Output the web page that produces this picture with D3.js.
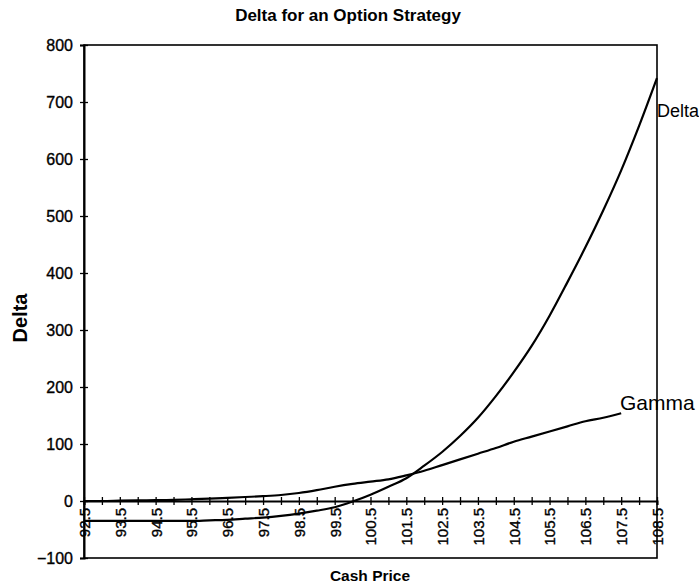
<!DOCTYPE html>
<html>
<head>
<meta charset="utf-8">
<script src="https://cdn.jsdelivr.net/npm/d3@7"></script>
<style>
  html, body { margin: 0; padding: 0; background: #fff; }
  svg { display: block; font-family: "Liberation Sans", Arial, Helvetica, sans-serif; }
</style>
</head>
<body>
<svg id="chart" width="699" height="585"></svg>
<script>
// ---- data ----
const cashPrice = [92.5, 93, 93.5, 94, 94.5, 95, 95.5, 96, 96.5, 97, 97.5, 98, 98.5, 99, 99.5, 100,
  100.5, 101, 101.5, 102, 102.5, 103, 103.5, 104, 104.5, 105, 105.5, 106, 106.5, 107, 107.5, 108, 108.5];
const deltaValues = [-35, -35, -35, -35, -35, -35, -35, -34, -33, -31, -29, -26, -22, -17, -11, -1,
  11, 25, 40, 62, 86, 114, 146, 184, 226, 272, 325, 384, 445, 510, 580, 658, 742];
const gammaValues = [0, 0, 0.5, 1, 1.5, 2, 3, 4, 5.5, 7, 8.5, 10.5, 14, 19, 25, 30,
  34, 38, 45, 53, 63, 73, 83, 93, 104, 113, 122, 131, 140, 146, 154];
const xTickLabels = ["92.5", "93.5", "94.5", "95.5", "96.5", "97.5", "98.5", "99.5", "100.5",
  "101.5", "102.5", "103.5", "104.5", "105.5", "106.5", "107.5", "108.5"];
const yTicks = [-100, 0, 100, 200, 300, 400, 500, 600, 700, 800];
const titleText = "Delta for an Option Strategy";
const xTitle = "Cash Price";
const yTitle = "Delta";
const seriesNames = ["Delta", "Gamma"];

// ---- layout ----
const svg = d3.select("#chart");
const mLeft = 84, mRight = 657, mTop = 45, mBottom = 558;
const x = d3.scaleLinear().domain([92.5, 108.5]).range([mLeft, mRight]);
const y = d3.scaleLinear().domain([-100, 800]).range([mBottom, mTop]);

// frame
svg.append("rect")
  .attr("x", mLeft).attr("y", mTop)
  .attr("width", mRight - mLeft).attr("height", mBottom - mTop)
  .attr("fill", "none").attr("stroke", "#000").attr("stroke-width", 1.6);

// y axis
const yAxis = svg.append("g")
  .attr("transform", `translate(${mLeft},0)`)
  .call(d3.axisLeft(y).tickValues(yTicks).tickSize(4).tickPadding(7).tickFormat(d3.format("d")));
yAxis.select(".domain").attr("stroke-width", 2);
yAxis.selectAll(".tick line").attr("x1", -4).attr("x2", 4).attr("stroke-width", 1.3);
yAxis.selectAll(".tick text").attr("font-size", 16).attr("font-family", "Liberation Sans, Arial, sans-serif")
  .attr("fill", "#000").attr("stroke", "#000").attr("stroke-width", 0.35);

// x axis at zero
const labelSet = new Set(xTickLabels);
const xAxis = svg.append("g")
  .attr("transform", `translate(0,${y(0)})`)
  .call(d3.axisBottom(x).tickValues(cashPrice).tickSize(4)
    .tickFormat(d => labelSet.has(String(d)) ? String(d) : ""));
xAxis.select(".domain").attr("stroke-width", 2);
xAxis.selectAll(".tick line").attr("y1", -4).attr("y2", 4).attr("stroke-width", 1.3);
xAxis.selectAll(".tick text")
  .attr("font-size", 15).attr("font-family", "Liberation Sans, Arial, sans-serif")
  .attr("fill", "#000").attr("stroke", "#000").attr("stroke-width", 0.35)
  .attr("transform", "rotate(-90)")
  .attr("text-anchor", "end")
  .attr("x", -7).attr("y", 0).attr("dy", "0.36em");

// lines
const line = d3.line().x(d => x(d[0])).y(d => y(d[1])).curve(d3.curveMonotoneX);
const deltaData = deltaValues.map((v, i) => [cashPrice[i], v]);
const gammaData = gammaValues.map((v, i) => [cashPrice[i], v]);
svg.append("path").datum(deltaData).attr("d", line)
  .attr("fill", "none").attr("stroke", "#000").attr("stroke-width", 2.2);
svg.append("path").datum(gammaData).attr("d", line)
  .attr("fill", "none").attr("stroke", "#000").attr("stroke-width", 2.2);

// series labels
svg.append("text").attr("x", 657).attr("y", 117)
  .attr("font-size", 18).attr("fill", "#000").text(seriesNames[0]);
svg.append("text").attr("x", 620).attr("y", 410)
  .attr("font-size", 21).attr("fill", "#000").text(seriesNames[1]);

// titles
svg.append("text").attr("x", 348).attr("y", 21).attr("text-anchor", "middle")
  .attr("font-size", 17).attr("font-weight", "bold").text(titleText);
svg.append("text").attr("x", 370).attr("y", 581).attr("text-anchor", "middle")
  .attr("font-size", 15.5).attr("font-weight", "bold").text(xTitle);
svg.append("text").attr("transform", "translate(27,318) rotate(-90)").attr("text-anchor", "middle")
  .attr("font-size", 20).attr("font-weight", "bold").text(yTitle);
</script>
</body>
</html>
